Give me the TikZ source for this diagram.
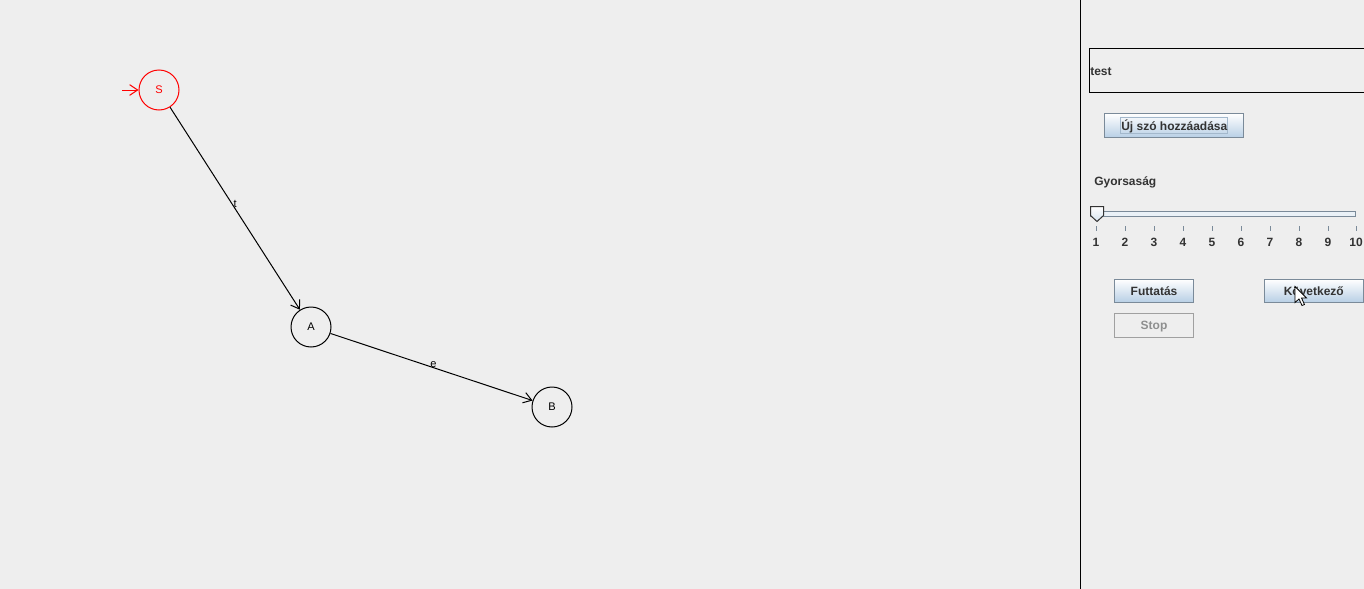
\documentclass[tikz,border=0pt]{standalone}
\usepackage{fontspec}
\setmainfont{Liberation Sans}
\usetikzlibrary{arrows.meta}
\definecolor{bgc}{RGB}{238,238,238}
\definecolor{txt}{RGB}{51,51,51}
\definecolor{btnb}{RGB}{122,138,153}
\definecolor{btnlo}{RGB}{184,207,229}
\definecolor{focusc}{RGB}{163,184,204}
\definecolor{dis}{RGB}{142,143,143}
\definecolor{disb}{RGB}{160,160,160}
\definecolor{tick}{RGB}{122,138,153}
\begin{document}
\begin{tikzpicture}[x=0.75pt,y=-0.75pt,
  state/.style={circle,draw,line width=0.75pt,minimum size=30pt,inner sep=0pt,text height=5.8pt,text depth=0pt,font=\fontsize{8.3}{9}\selectfont},
  edge/.style={line width=0.75pt,-{Straight Barb[length=6pt,width=8pt,line width=0.75pt]}},
  elabel/.style={font=\fontsize{8.3}{9}\selectfont,inner sep=0pt},
  uitext/.style={font=\bfseries\fontsize{9}{10}\selectfont,text=txt,inner sep=0pt,text height=6.5pt,text depth=0pt},
  btn/.style={draw=btnb,line width=0.75pt,top color=white,bottom color=btnlo,minimum height=17.25pt,inner sep=0pt,text height=6.5pt,text depth=0pt,font=\bfseries\fontsize{9}{10}\selectfont,text=txt},
  disbtn/.style={draw=disb,line width=0.75pt,fill=bgc,minimum height=18pt,inner sep=0pt,text height=6.5pt,text depth=0pt,font=\bfseries\fontsize{9}{10}\selectfont,text=dis},
  tk/.style={draw=tick,line width=0.75pt}
]
\useasboundingbox (0,0) rectangle (1364,589);
\clip (0,0) rectangle (1364,589);
\fill[bgc] (0,0) rectangle (1364,589);

% graph
\node[state,draw=red,text=red] (S) at (159,90) {S};
\node[state] (A) at (311,327) {A};
\node[state] (B) at (552,407) {B};
\coordinate (start) at (122,90);
\draw[edge,red] (start) -- (S);
\draw[edge] (S) -- node[elabel,pos=0.48,xshift=2pt]{t} (A);
\draw[edge] (A) -- node[elabel,pos=0.51,yshift=2.3pt]{e} (B);

% divider
\draw[line width=0.75pt] (1080,0) -- (1080,589);

% text field
\draw[line width=0.75pt] (1089.5,48.5) rectangle (1370,92.5);
\node[uitext,anchor=west] (tf) at (1090,70.8) {test};

% add word button
\node[btn,minimum width=104pt,minimum height=18pt] (add) at (1174,125.5) {};
\node[draw=focusc,line width=0.75pt,minimum width=80pt,minimum height=12pt,inner sep=0pt] (focus) at (1174.3,125.3) {};
\node[uitext] (addt) at (1174.3,125.8) {Új szó hozzáadása};

% speed label
\node[uitext,anchor=west] (gy) at (1094,181) {Gyorsaság};

% slider track
\draw[btnb,fill=white!70!btnlo,line width=0.75pt] (1090.5,211.5) rectangle (1355.5,216.5);
% thumb
\draw[black!80,line width=0.75pt,top color=white,bottom color=btnlo!60] (1090.5,206.5) -- (1103.5,206.5) -- (1103.5,215.5) -- (1097,221.5) -- (1090.5,215.5) -- cycle;
% ticks and labels
\foreach \i/\xx in {1/1096,2/1125,3/1154,4/1183,5/1212,6/1241,7/1270,8/1299,9/1328,10/1356}{
  \draw[tk] (\xx,226) -- (\xx,231);
  \node[uitext] (t\i) at (\xx,242) {\i};
}

% buttons
\node[btn,minimum width=59.5pt] (run) at (1154,290.8) {Futtatás};
\node[btn,minimum width=74.25pt,line width=1pt] (next) at (1313.8,290.8) {Következő};
\node[disbtn,minimum width=59.5pt] (stop) at (1154,325.5) {Stop};

% mouse cursor
\begin{scope}[shift={(1295,286.5)}]
\draw[fill=white,line width=0.6pt,line join=miter] (0,0) -- (0,16) -- (4,12.5) -- (7,19) -- (9.5,18) -- (6.5,11.5) -- (11.5,11.5) -- cycle;
\end{scope}
\end{tikzpicture}
\end{document}
